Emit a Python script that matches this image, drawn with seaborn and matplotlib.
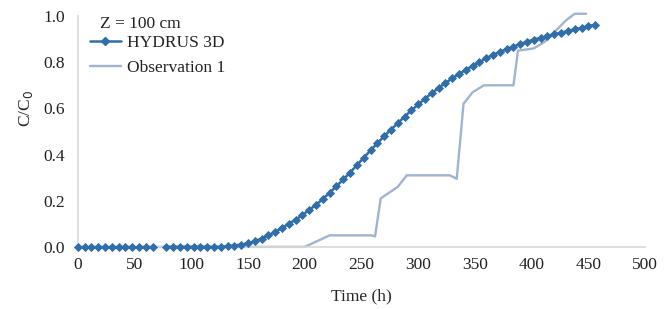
import numpy as np
import pandas as pd
import matplotlib
matplotlib.use('Agg')
import matplotlib.pyplot as plt
from matplotlib.lines import Line2D
import seaborn as sns

# HYDRUS 3D simulated breakthrough (Z = 100 cm), gap near 72 h
hydrus_t = [0, 6, 12, 18, 24, 30, 36, 42, 48, 54, 60, 66,
            78, 84, 90, 96, 102, 108, 114, 120, 126, 132, 138, 144, 150, 156,
            162, 168, 174, 180, 186, 192, 198, 204, 210, 216, 222, 228, 234,
            240, 246, 252, 258, 264, 270, 276, 282, 288, 294, 300, 306, 312,
            318, 324, 330, 336, 342, 348, 354, 360, 366, 372, 378, 384, 390,
            396, 402, 408, 414, 420, 426, 432, 438, 444, 450, 456]
hydrus_c = [0, 0, 0, 0, 0, 0, 0, 0, 0, 0, 0, 0,
            0, 0, 0, 0, 0, 0, 0, 0, 0, 0.003, 0.006, 0.010, 0.015, 0.025,
            0.036, 0.050, 0.065, 0.082, 0.100, 0.118, 0.138, 0.160, 0.182,
            0.208, 0.235, 0.263, 0.292, 0.322, 0.354, 0.386, 0.418, 0.449,
            0.479, 0.508, 0.536, 0.564, 0.591, 0.617, 0.642, 0.666, 0.689,
            0.710, 0.730, 0.749, 0.767, 0.784, 0.800, 0.818, 0.832, 0.845,
            0.857, 0.868, 0.879, 0.889, 0.898, 0.906, 0.914, 0.921, 0.928,
            0.935, 0.942, 0.949, 0.956, 0.963]
hydrus_seg = [1] * 12 + [2] * 64

# Observation 1
obs_t = [0, 200, 222, 259, 262, 267, 282, 290, 328, 334, 340, 348, 358,
         384, 388, 402, 412, 420, 430, 438, 448]
obs_c = [0, 0, 0.05, 0.05, 0.045, 0.21, 0.26, 0.31, 0.31, 0.295, 0.62,
         0.67, 0.70, 0.70, 0.85, 0.86, 0.89, 0.93, 0.98, 1.01, 1.01]

x_ticks = [0, 50, 100, 150, 200, 250, 300, 350, 400, 450, 500]
y_ticks = [0.0, 0.2, 0.4, 0.6, 0.8, 1.0]

hyd = pd.DataFrame({'t': hydrus_t, 'c': hydrus_c, 'seg': hydrus_seg})
obs = pd.DataFrame({'t': obs_t, 'c': obs_c})

sns.set_style('white')
plt.rcParams['font.family'] = ['Liberation Serif', 'DejaVu Serif']

blue = '#2F6EA8'
grey_blue = '#A0B3D0'
fs = 12.5

fig, ax = plt.subplots(figsize=(6.65, 3.09), dpi=100)
fig.subplots_adjust(left=0.117, right=0.970, top=0.948, bottom=0.201)

sns.lineplot(data=obs, x='t', y='c', ax=ax, color=grey_blue, linewidth=1.7,
             estimator=None, sort=False, clip_on=False, zorder=2)
sns.lineplot(data=hyd, x='t', y='c', units='seg', estimator=None, ax=ax,
             color=blue, linewidth=1.8, marker='D', markersize=4.4,
             markeredgewidth=0.6, markeredgecolor=blue, zorder=3, clip_on=False)

ax.set_xlim(0, 500)
ax.set_ylim(0, 1.0)
ax.set_xticks(x_ticks)
ax.set_yticks(y_ticks)
ax.set_yticklabels([f'{v:.1f}' for v in y_ticks])
ax.tick_params(axis='both', length=0, labelsize=fs, colors='#222222')
ax.tick_params(axis='y', pad=9)
ax.tick_params(axis='x', pad=7)

for side in ['top', 'right']:
    ax.spines[side].set_visible(False)
for side in ['left', 'bottom']:
    ax.spines[side].set_color('#D9D9D9')
    ax.spines[side].set_linewidth(1.2)

ax.set_xlabel('Time (h)', fontsize=fs, labelpad=11)
ax.set_ylabel('C/C$_0$', fontsize=fs, labelpad=6)
ax.yaxis.label.set_y(0.6)

ax.text(0.039, 0.965, 'Z = 100 cm', transform=ax.transAxes, fontsize=fs,
        ha='left', va='center', color='#222222')

handles = [Line2D([], [], color=blue, linewidth=1.8, marker='D', markersize=4.4),
           Line2D([], [], color=grey_blue, linewidth=1.7)]
leg = ax.legend(handles, ['HYDRUS 3D', 'Observation 1'],
                loc='upper left', bbox_to_anchor=(0.021, 0.92), frameon=False,
                fontsize=fs, handlelength=1.8, handletextpad=0.35,
                labelspacing=0.55, borderaxespad=0, borderpad=0)
for t in leg.get_texts():
    t.set_color('#222222')

fig.savefig('out.png', dpi=100)
